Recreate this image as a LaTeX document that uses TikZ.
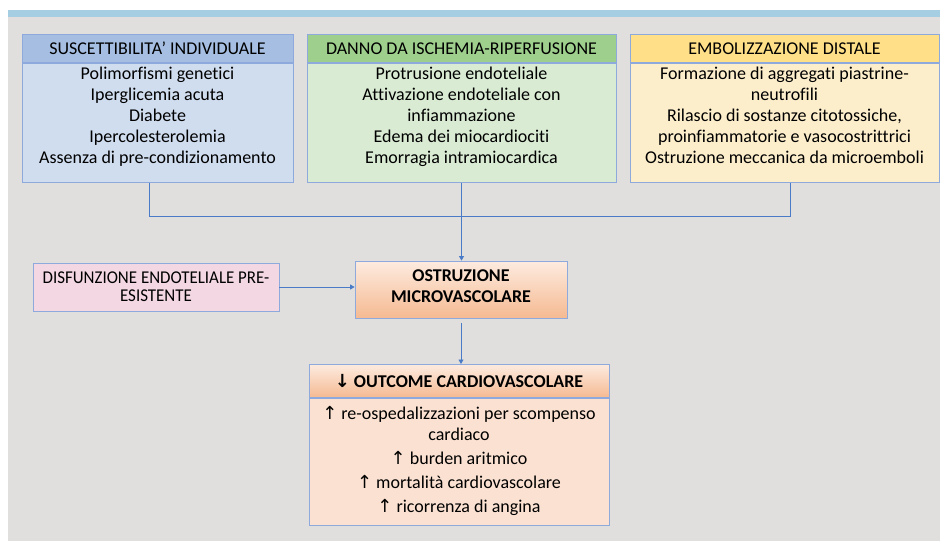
\documentclass[tikz,border=0pt]{standalone}
\usepackage{fontspec}
\setmainfont{Carlito}[Ligatures=NoCommon]
\newfontfamily\arrowfont{DejaVu Sans}
\newfontfamily\narrowfont[FakeStretch=0.94,Ligatures=NoCommon]{Carlito}
\usetikzlibrary{arrows.meta,positioning}
\definecolor{bg}{HTML}{E0DFDE}
\definecolor{band}{HTML}{A6CEE3}
\definecolor{edge}{HTML}{8EA9DB}
\definecolor{wirec}{HTML}{4A7BC6}
\definecolor{blueh}{HTML}{A5BEE2}
\definecolor{blueb}{HTML}{D0DDEF}
\definecolor{greenh}{HTML}{9ECF8D}
\definecolor{greenb}{HTML}{D9EBD3}
\definecolor{yellowh}{HTML}{FFE089}
\definecolor{yellowb}{HTML}{FCEDCB}
\definecolor{pinkb}{HTML}{F3D8E3}
\definecolor{peachl}{HTML}{FDEBE0}
\definecolor{peachd}{HTML}{F5BA92}
\definecolor{peachb}{HTML}{FBE1D1}
\begin{document}
\begin{tikzpicture}[x=1pt,y=-1pt,
    box/.style={draw=edge,line width=0.8pt,inner sep=0pt,font=\fontsize{18}{21}\selectfont},
    head/.style={box,minimum height=28pt,anchor=north},
    body/.style={box,anchor=north},
    txt/.style={align=center,inner sep=0pt,anchor=north,font=\fontsize{18}{21}\selectfont},
    wire/.style={draw=wirec,line width=0.8pt},
    arr/.style={wire,-{Triangle[width=5pt,length=4.5pt]}}]

    % page and background
    \fill[white] (0,0) rectangle (940,541);
    \fill[bg] (8,10) rectangle (940,541);
    \fill[band] (8,10) rectangle (940,17);

    % three causes
    \node[head,fill=blueh,minimum width=271pt] (susc) at (157.5,34) {SUSCETTIBILITA’ INDIVIDUALE};
    \node[body,fill=blueb,minimum width=271pt,minimum height=119pt] (susc-b) at (susc.south) {};
    \node[txt] (susc-t) at ([yshift=-4pt]susc-b.north) {Polimorfismi genetici\\Iperglicemia acuta\\Diabete\\Ipercolesterolemia\\Assenza di pre-condizionamento};

    \node[head,fill=greenh,minimum width=309pt] (danno) at (461.5,34) {DANNO DA ISCHEMIA-RIPERFUSIONE};
    \node[body,fill=greenb,minimum width=309pt,minimum height=119pt] (danno-b) at (danno.south) {};
    \node[txt] (danno-t) at ([yshift=-4pt]danno-b.north) {Protrusione endoteliale\\Attivazione endoteliale con\\infiammazione\\Edema dei miocardiociti\\Emorragia intramiocardica};

    \node[head,fill=yellowh,minimum width=309pt] (embol) at (784.5,34) {EMBOLIZZAZIONE DISTALE};
    \node[body,fill=yellowb,minimum width=309pt,minimum height=119pt] (embol-b) at (embol.south) {};
    \node[txt] (embol-t) at ([yshift=-4pt]embol-b.north) {Formazione di aggregati piastrine-\\neutrofili\\Rilascio di sostanze citotossiche,\\proinfiammatorie e vasocostrittrici\\Ostruzione meccanica da microemboli};

    % middle row
    \node[box,fill=pinkb,minimum width=246pt,minimum height=48pt,align=center,
        font=\narrowfont\fontsize{18}{18}\selectfont] (disf) at (156,287) {DISFUNZIONE ENDOTELIALE PRE-\\ESISTENTE};
    \node[box,top color=peachl,bottom color=peachd,minimum width=212pt,minimum height=57pt,align=center,
        font=\bfseries\fontsize{18}{21.5}\selectfont] (ostr) at (461,289.5) {OSTRUZIONE\\MICROVASCOLARE\\[-15pt]};

    % outcome
    \node[head,top color=peachl,bottom color=peachd,minimum width=300pt,minimum height=33pt,
        font=\bfseries\fontsize{18}{21}\selectfont] (outc) at (459,364) {{\arrowfont ↓} OUTCOME CARDIOVASCOLARE};
    \node[body,fill=peachb,minimum width=300pt,minimum height=127pt] (outc-b) at (outc.south) {};
    \node[txt] (outc-t) at ([yshift=-8.5pt]outc-b.north) {{\arrowfont ↑} re-ospedalizzazioni per scompenso\\cardiaco\\[3pt]{\arrowfont ↑} burden aritmico\\[3pt]{\arrowfont ↑} mortalità cardiovascolare\\[3pt]{\arrowfont ↑} ricorrenza di angina};

    % connectors
    \coordinate (j) at (461.5,216);
    \draw[wire] ([xshift=-8.5pt]susc-b.south) |- (j);
    \draw[wire] ([xshift=5.5pt]embol-b.south) |- (j);
    \draw[arr] (danno-b.south) -- (danno-b.south |- ostr.north);
    \draw[arr] (disf.east) -- (disf.east -| ostr.west);
    \draw[arr,shorten <=5pt] (ostr.south) -- (ostr.south |- outc.north);
\end{tikzpicture}
\end{document}
